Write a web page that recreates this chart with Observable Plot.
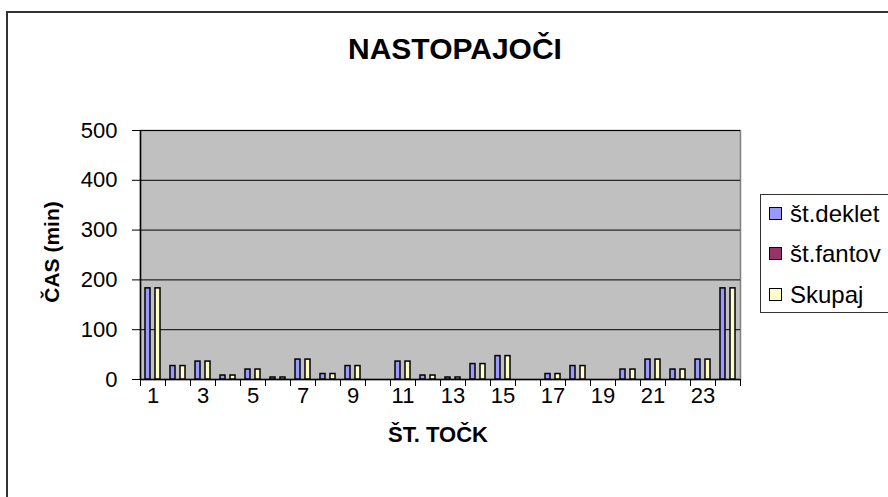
<!DOCTYPE html>
<html>
<head>
<meta charset="utf-8">
<script src="https://cdn.jsdelivr.net/npm/d3@7"></script>
<script src="https://cdn.jsdelivr.net/npm/@observablehq/plot@0.6"></script>
<style>
  html, body { margin: 0; padding: 0; background: #fff; }
  body { width: 888px; height: 497px; overflow: hidden; }
  #wrap { position: relative; width: 888px; height: 497px; font-family: "Liberation Sans", Arial, sans-serif; color: #000; }
  #outer { position: absolute; left: 6px; top: 11px; width: 900px; height: 500px; border: 2px solid #333; box-sizing: border-box; }
  #title { position: absolute; left: 0; width: 910px; top: 32px; text-align: center; font-weight: bold; font-size: 30px; }
  #ytitle { position: absolute; left: 52px; top: 252px; transform: translate(-50%, -50%) rotate(-90deg); font-weight: bold; font-size: 21px; white-space: nowrap; }
  #xtitle { position: absolute; left: 0; width: 876px; top: 422px; text-align: center; font-weight: bold; font-size: 22px; }
  #chart { position: absolute; left: 0; top: 0; width: 888px; height: 497px; }
  #chart svg { max-width: none !important; }
  #legend { position: absolute; left: 760px; top: 194px; width: 150px; height: 119px; border: 1px solid #333; box-sizing: border-box; background: #fff; }
  .item { position: absolute; left: 8px; font-size: 24px; white-space: nowrap; line-height: 1; }
  .sw { display: inline-block; width: 11px; height: 11px; border: 1.5px solid #000; margin-right: 8px; vertical-align: 2px; }
</style>
</head>
<body>
<div id="wrap">
  <div id="outer"></div>
  <div id="chart"></div>
  <div id="title">NASTOPAJOČI</div>
  <div id="ytitle">ČAS (min)</div>
  <div id="xtitle">ŠT. TOČK</div>
  <div id="legend"></div>
</div>
<script>
// ---- data ----
const categories = [1,2,3,4,5,6,7,8,9,10,11,12,13,14,15,16,17,18,19,20,21,22,23,24];
const seriesNames = ["št.deklet", "št.fantov", "Skupaj"];
const deklet = [183,27,36,8,20,4,40,11,27,0,36,8,4,31,47,0,11,27,0,20,40,20,40,183];
const fantov = [0,0,0,0,0,0,0,0,0,0,0,0,0,0,0,0,0,0,0,0,0,0,0,0];
const skupaj = [183,27,36,8,20,4,40,11,27,0,36,8,4,31,47,0,11,27,0,20,40,20,40,183];
const seriesColors = ["#9999FF", "#993366", "#FFFFCC"];
const yTicks = [0,100,200,300,400,500];
const xLabels = ["1","","3","","5","","7","","9","","11","","13","","15","","17","","19","","21","","23",""];

const seriesValues = [deklet, fantov, skupaj];
const table = categories.flatMap((c, i) => seriesNames.map((s, j) => ({cat: c, series: s, value: seriesValues[j][i]})))
  .filter(d => d.value > 0);

const common = {
  width: 888,
  height: 497,
  marginLeft: 140,
  marginRight: 148,
  marginTop: 130,
  marginBottom: 118,
  style: {fontFamily: "'Liberation Sans', Arial, sans-serif", fontSize: "22px", color: "#000", background: "transparent", overflow: "visible"}
};

// background layer: plot area, grid and axes
const axes = Plot.plot({
  ...common,
  x: {type: "band", domain: categories, padding: 0, round: false},
  y: {domain: [0, 500]},
  marks: [
    Plot.frame({fill: "#C0C0C0", stroke: "#808080", strokeWidth: 1.5}),
    Plot.gridY(yTicks, {stroke: "#000", strokeOpacity: 1, strokeWidth: 1}),
    Plot.axisY({ticks: yTicks, tickSize: 8, tickPadding: 15, label: null, fontSize: 22}),
    Plot.axisX({ticks: categories, tickSize: 7, text: null, dx: -12.5}),
    Plot.axisX({ticks: [24], tickSize: 7, text: null, dx: 12.5}),
    Plot.axisX({ticks: categories, tickSize: 0, tickPadding: 8, tickFormat: (d, i) => xLabels[i], label: null, fontSize: 22}),
    Plot.ruleX([categories[0]], {stroke: "#000", strokeWidth: 1.5, dx: -12.5}),
    Plot.ruleY([0], {stroke: "#000", strokeWidth: 1.5})
  ]
});

// bar layer: clustered bars, one facet per category
const chart = Plot.plot({
  ...common,
  fx: {domain: categories, padding: 0, round: false, label: null, axis: null},
  x: {domain: seriesNames, paddingInner: 0, paddingOuter: 1, round: false, axis: null},
  y: {domain: [0, 500], axis: null},
  color: {domain: seriesNames, range: seriesColors},
  marks: [
    Plot.barY(table, {fx: "cat", x: "series", y: "value", fill: "series", stroke: "#000", strokeWidth: 1.5})
  ]
});

const holder = document.getElementById("chart");
for (const el of [axes, chart]) {
  el.style.position = "absolute"; el.style.left = "0"; el.style.top = "0";
  el.style.maxWidth = "none";
  holder.appendChild(el);
}

// legend
const legend = document.getElementById("legend");
const rowTops = [7, 47, 88];
seriesNames.forEach((s, j) => {
  const it = document.createElement("div");
  it.className = "item";
  it.style.top = rowTops[j] + "px";
  const sw = document.createElement("span");
  sw.className = "sw";
  sw.style.background = seriesColors[j];
  it.appendChild(sw);
  it.appendChild(document.createTextNode(s));
  legend.appendChild(it);
});
</script>
</body>
</html>
